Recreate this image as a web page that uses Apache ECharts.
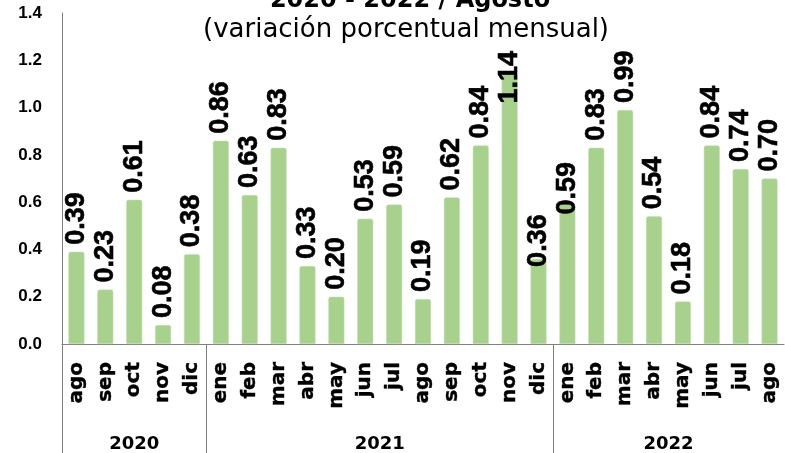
<!DOCTYPE html>
<html>
<head>
<meta charset="utf-8">
<script src="https://cdn.jsdelivr.net/npm/echarts@6/dist/echarts.min.js"></script>
<style>
  html, body { margin: 0; padding: 0; background: #fff; }
  #chart { width: 785px; height: 453px; }
</style>
</head>
<body>
<div id="chart"></div>
<script>
// monthly variation, ago 2020 - ago 2022
var months = ["ago", "sep", "oct", "nov", "dic",
  "ene", "feb", "mar", "abr", "may", "jun", "jul", "ago", "sep", "oct", "nov", "dic",
  "ene", "feb", "mar", "abr", "may", "jun", "jul", "ago"];
var values = [0.39, 0.23, 0.61, 0.08, 0.38,
  0.86, 0.63, 0.83, 0.33, 0.20, 0.53, 0.59, 0.19, 0.62, 0.84, 1.14, 0.36,
  0.59, 0.83, 0.99, 0.54, 0.18, 0.84, 0.74, 0.70];
var years = ["2020", "2021", "2022"];
var yearCounts = [5, 12, 8];

// year boundaries and centres on a 0..N scale
var yearStarts = [];
var yearCenters = [];
var acc = 0;
yearCounts.forEach(function (c) {
  yearStarts.push(acc);
  yearCenters.push(acc + c / 2);
  acc += c;
});

// labels that sit lower, overlapping the bar top (as in the original)
var labelDistance = { 15: -29, 16: -8, 17: -10 };

var barData = values.map(function (v, i) {
  if (labelDistance[i] === undefined) return v;
  return { value: v, label: { distance: labelDistance[i] } };
});

var wide = "DejaVu Sans";
var narrow = "Liberation Sans";
var chart = echarts.init(document.getElementById("chart"));
chart.setOption({
  animation: false,
  textStyle: { fontFamily: wide },
  title: [
    {
      text: "2020 - 2022 / Agosto",
      left: 405,
      textAlign: "center",
      top: -16,
      textStyle: { fontSize: 24, fontWeight: "bold", color: "#000", fontFamily: wide }
    },
    {
      text: "(variación porcentual mensual)",
      left: 401,
      textAlign: "center",
      top: 12,
      textStyle: { fontSize: 26, fontWeight: "normal", color: "#000", fontFamily: wide }
    }
  ],
  grid: { left: 62, right: 1, top: 13, bottom: 108 },
  xAxis: [
    {
      type: "category",
      data: months,
      axisLine: { lineStyle: { color: "#808080", width: 1 } },
      axisTick: { show: false },
      axisLabel: {
        rotate: 90,
        interval: 0,
        margin: 18,
        fontSize: 20,
        fontWeight: "bold",
        color: "#000",
        fontFamily: wide,
        textBorderColor: "#000",
        textBorderWidth: 0.4
      }
    },
    {
      type: "value",
      position: "bottom",
      min: 0,
      max: months.length,
      axisLine: { show: false },
      splitLine: { show: false },
      axisTick: {
        show: true,
        length: 110,
        customValues: yearStarts,
        lineStyle: { color: "#808080", width: 1 }
      },
      axisLabel: {
        customValues: yearCenters,
        margin: 91,
        fontSize: 18,
        fontWeight: "bold",
        color: "#000",
        fontFamily: wide,
        formatter: function (v) {
          return years[yearCenters.indexOf(v)];
        }
      }
    }
  ],
  yAxis: {
    type: "value",
    min: 0,
    max: 1.4,
    interval: 0.2,
    axisLine: { show: true, lineStyle: { color: "#808080" } },
    axisTick: { show: false },
    splitLine: { show: false },
    axisLabel: {
      margin: 20,
      fontSize: 17,
      fontWeight: "bold",
      color: "#000",
      fontFamily: narrow,
      formatter: function (v) { return v.toFixed(1); }
    }
  },
  series: [
    {
      type: "bar",
      data: barData,
      barWidth: 16,
      itemStyle: {
        color: "#A9D18E",
        borderColor: "#C5E0B4",
        borderWidth: 0.5,
        borderRadius: [2, 2, 0, 0]
      },
      label: {
        show: true,
        position: "top",
        rotate: 90,
        align: "left",
        verticalAlign: "middle",
        distance: 7,
        fontSize: 27,
        fontWeight: "bold",
        color: "#000",
        fontFamily: narrow,
        textBorderColor: "#000",
        textBorderWidth: 0.6,
        formatter: function (p) { return p.value.toFixed(2); }
      }
    }
  ]
});
</script>
</body>
</html>
